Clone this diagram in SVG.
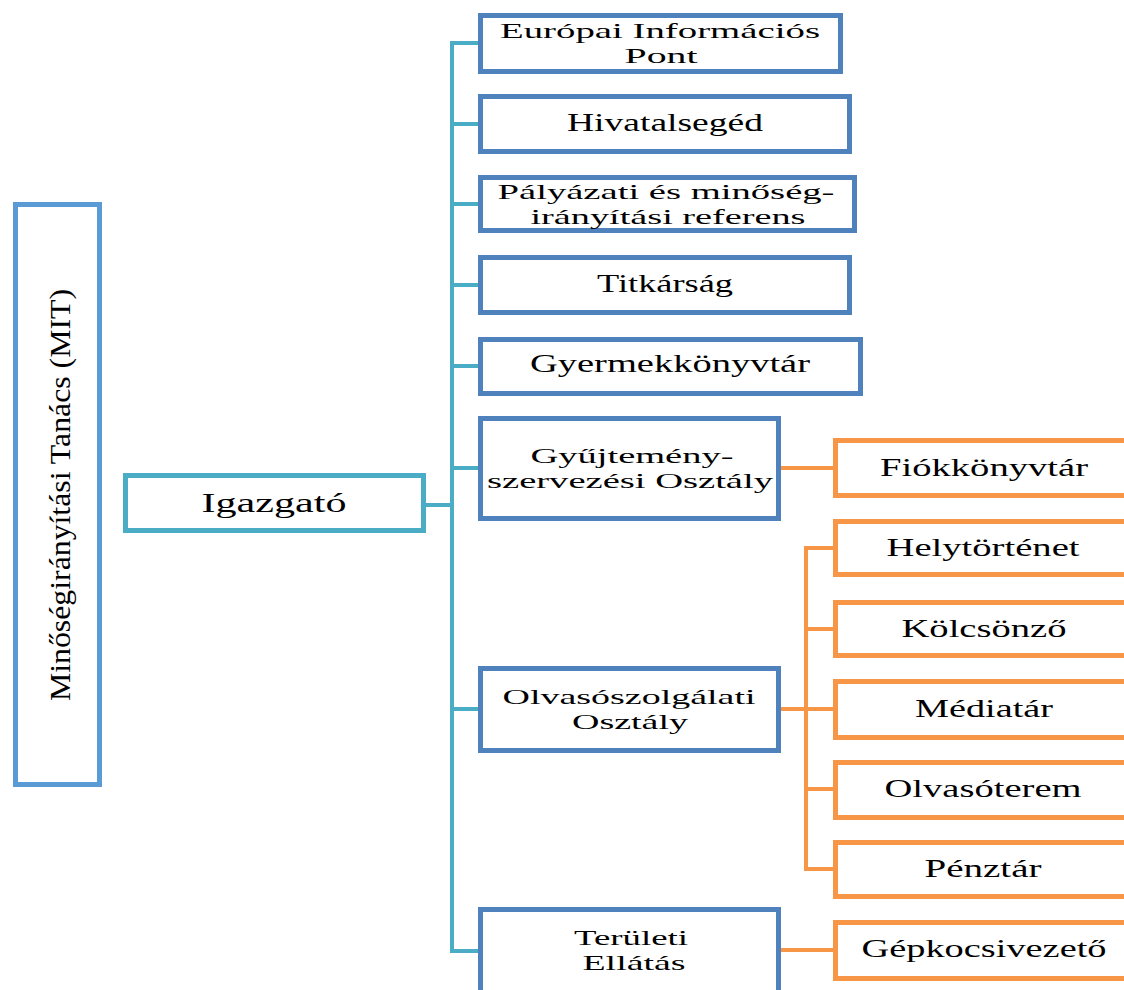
<svg xmlns="http://www.w3.org/2000/svg" width="1124" height="990" viewBox="0 0 1124 990">
<style>
  .box { fill: #FFFFFF; stroke-width: 5; }
  .blue { stroke: #4F81BD; }
  .mit { stroke: #5B9BD5; }
  .teal { stroke: #4BACC6; }
  .orange { stroke: #F79646; }
  .t { font-family: "Liberation Serif", "Times New Roman", serif; font-size: 25px; fill: #000000; text-anchor: middle; }
  .t2 { font-size: 22px; }
  .conn line { stroke-width: 4; stroke-linecap: square; }
</style>
<rect width="1124" height="990" fill="#FFFFFF"/>

<g id="connectors" class="conn">
  <line class="teal" x1="426" y1="505" x2="452" y2="505"/>
  <line class="teal" x1="452" y1="43" x2="452" y2="951"/>
  <line class="teal" x1="452" y1="43" x2="478" y2="43"/>
  <line class="teal" x1="452" y1="124" x2="478" y2="124"/>
  <line class="teal" x1="452" y1="204" x2="478" y2="204"/>
  <line class="teal" x1="452" y1="285" x2="478" y2="285"/>
  <line class="teal" x1="452" y1="366" x2="478" y2="366"/>
  <line class="teal" x1="452" y1="468" x2="478" y2="468"/>
  <line class="teal" x1="452" y1="709" x2="478" y2="709"/>
  <line class="teal" x1="452" y1="951" x2="478" y2="951"/>
  <line class="orange" x1="781" y1="468" x2="833" y2="468"/>
  <line class="orange" x1="781" y1="709" x2="806" y2="709"/>
  <line class="orange" x1="806" y1="548" x2="806" y2="869"/>
  <line class="orange" x1="806" y1="548" x2="833" y2="548"/>
  <line class="orange" x1="806" y1="629" x2="833" y2="629"/>
  <line class="orange" x1="806" y1="709" x2="833" y2="709"/>
  <line class="orange" x1="806" y1="789" x2="833" y2="789"/>
  <line class="orange" x1="806" y1="869" x2="833" y2="869"/>
  <line class="orange" x1="781" y1="950" x2="833" y2="950"/>
</g>

<g id="mit">
  <rect class="box mit" x="15.5" y="204.5" width="84" height="580"/>
  <text class="t" transform="translate(70,495) rotate(-90)" style="font-size:30px" textLength="412" lengthAdjust="spacingAndGlyphs">Minőségirányítási Tanács (MIT)</text>
</g>

<g id="igazgato">
  <rect class="box teal" x="125.5" y="475.5" width="298" height="55"/>
  <text class="t" x="274" y="512" style="font-size:27px" textLength="145" lengthAdjust="spacingAndGlyphs">Igazgató</text>
</g>

<g id="europai">
  <rect class="box blue" x="480.5" y="15.5" width="360" height="56"/>
  <text class="t t2" x="660" y="38" textLength="320" lengthAdjust="spacingAndGlyphs">Európai Információs</text>
  <text class="t t2" x="661" y="63" textLength="73" lengthAdjust="spacingAndGlyphs">Pont</text>
</g>

<g id="hivatalseged">
  <rect class="box blue" x="480.5" y="96.5" width="369" height="55"/>
  <text class="t" x="665" y="131" textLength="196" lengthAdjust="spacingAndGlyphs">Hivatalsegéd</text>
</g>

<g id="palyazati">
  <rect class="box blue" x="480.5" y="177.5" width="374" height="53"/>
  <text class="t t2" x="666" y="199" textLength="337" lengthAdjust="spacingAndGlyphs">Pályázati és minőség-</text>
  <text class="t t2" x="668" y="224" textLength="275" lengthAdjust="spacingAndGlyphs">irányítási referens</text>
</g>

<g id="titkarsag">
  <rect class="box blue" x="480.5" y="257.5" width="369" height="55"/>
  <text class="t" x="665" y="292" textLength="136" lengthAdjust="spacingAndGlyphs">Titkárság</text>
</g>

<g id="gyermekkonyvtar">
  <rect class="box blue" x="480.5" y="339.5" width="380" height="54"/>
  <text class="t" x="670" y="372" textLength="280" lengthAdjust="spacingAndGlyphs">Gyermekkönyvtár</text>
</g>

<g id="gyujtemeny">
  <rect class="box blue" x="480.5" y="418.5" width="298" height="100"/>
  <text class="t t2" x="632" y="463" textLength="203" lengthAdjust="spacingAndGlyphs">Gyűjtemény-</text>
  <text class="t t2" x="630" y="488" textLength="286" lengthAdjust="spacingAndGlyphs">szervezési Osztály</text>
</g>

<g id="olvasoszolgalati">
  <rect class="box blue" x="480.5" y="668.5" width="298" height="82"/>
  <text class="t t2" x="629" y="704" textLength="253" lengthAdjust="spacingAndGlyphs">Olvasószolgálati</text>
  <text class="t t2" x="630" y="729" textLength="116" lengthAdjust="spacingAndGlyphs">Osztály</text>
</g>

<g id="teruleti">
  <rect class="box blue" x="480.5" y="909.5" width="298" height="95"/>
  <text class="t t2" x="631" y="945" textLength="114" lengthAdjust="spacingAndGlyphs">Területi</text>
  <text class="t t2" x="634" y="970" textLength="103" lengthAdjust="spacingAndGlyphs">Ellátás</text>
</g>

<g id="fiokkonyvtar">
  <rect class="box orange" x="835.5" y="440.5" width="300" height="55"/>
  <text class="t" x="984" y="476" textLength="208" lengthAdjust="spacingAndGlyphs">Fiókkönyvtár</text>
</g>

<g id="helytortenet">
  <rect class="box orange" x="835.5" y="521.5" width="300" height="53"/>
  <text class="t" x="983" y="556" textLength="193" lengthAdjust="spacingAndGlyphs">Helytörténet</text>
</g>

<g id="kolcsonzo">
  <rect class="box orange" x="835.5" y="602.5" width="300" height="53"/>
  <text class="t" x="984" y="637" textLength="165" lengthAdjust="spacingAndGlyphs">Kölcsönző</text>
</g>

<g id="mediatar">
  <rect class="box orange" x="835.5" y="681.5" width="300" height="56"/>
  <text class="t" x="984" y="717" textLength="138" lengthAdjust="spacingAndGlyphs">Médiatár</text>
</g>

<g id="olvasoterem">
  <rect class="box orange" x="835.5" y="762.5" width="300" height="55"/>
  <text class="t" x="983" y="797" textLength="197" lengthAdjust="spacingAndGlyphs">Olvasóterem</text>
</g>

<g id="penztar">
  <rect class="box orange" x="835.5" y="842.5" width="300" height="54"/>
  <text class="t" x="983" y="877" textLength="117" lengthAdjust="spacingAndGlyphs">Pénztár</text>
</g>

<g id="gepkocsivezeto">
  <rect class="box orange" x="835.5" y="922.5" width="300" height="56"/>
  <text class="t" x="984" y="957" textLength="245" lengthAdjust="spacingAndGlyphs">Gépkocsivezető</text>
</g>
</svg>
